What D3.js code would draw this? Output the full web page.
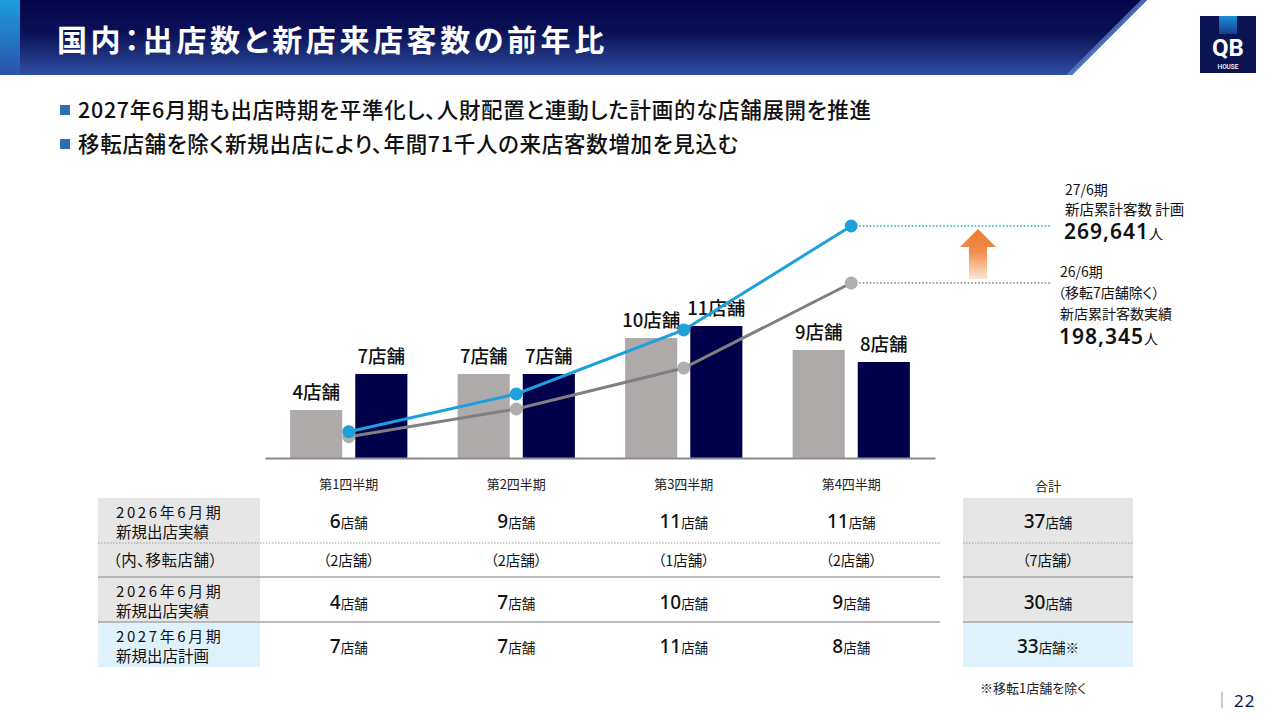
<!DOCTYPE html>
<html lang="ja">
<head>
<meta charset="utf-8">
<script src="https://cdn.jsdelivr.net/npm/d3@7"></script>
<style>
  html, body { margin: 0; padding: 0; background: #fff; }
  svg { display: block; font-family: "Noto Sans CJK JP", "Noto Sans", sans-serif; font-feature-settings: "palt"; }
</style>
</head>
<body>
<div id="chart"></div>
<script>
// 四半期と系列
const quarters = ["第1四半期", "第2四半期", "第3四半期", "第4四半期"];
const seriesNames = ["2026年6月期", "2027年6月期"];

// 出店数（棒）
const stores2026 = [4, 7, 10, 9];
const stores2027 = [7, 7, 11, 8];

// 新店累計客数（折れ線、図から読み取った推定値）
const visitors2026 = [6100, 40800, 92000, 198345];
const visitors2027 = [12400, 59500, 139600, 269641];

// 表
const rowLabels = [
  ["2026年6月期", "新規出店実績"],
  ["（内、移転店舗）"],
  ["2026年6月期", "新規出店実績"],
  ["2027年6月期", "新規出店計画"]
];
const openedAll2026 = [6, 9, 11, 11];
const relocated2026 = [2, 2, 1, 2];
const rowTotals = [37, 7, 30, 33];

const bullets = [
  "2027年6月期も出店時期を平準化し、人財配置と連動した計画的な店舗展開を推進",
  "移転店舗を除く新規出店により、年間71千人の来店客数増加を見込む"
];

const W = 1280, H = 720;
const NAVY = "#00004a", GRAY = "#aeaaaa", BLUE = "#1ea0da", LINEGRAY = "#7f7f7f";

const svg = d3.select("#chart").append("svg").attr("width", W).attr("height", H);
const defs = svg.append("defs");

// ---- ヘッダー ----
const hg = defs.append("linearGradient").attr("id", "hdr").attr("x1", 0).attr("y1", 0).attr("x2", 0).attr("y2", 1);
hg.append("stop").attr("offset", "0%").attr("stop-color", "#04044a");
hg.append("stop").attr("offset", "45%").attr("stop-color", "#0c1258");
hg.append("stop").attr("offset", "100%").attr("stop-color", "#2d4f9f");
const sg = defs.append("linearGradient").attr("id", "strip").attr("x1", 0).attr("y1", 0).attr("x2", 0).attr("y2", 1);
sg.append("stop").attr("offset", "0%").attr("stop-color", "#1c9de0");
sg.append("stop").attr("offset", "100%").attr("stop-color", "#2a52aa");

svg.append("path").attr("d", "M0,0 L1147,0 L1072,75 L0,75 Z").attr("fill", "url(#hdr)");
svg.append("path").attr("d", "M1141,0 L1147,0 L1072,75 L1066,75 Z").attr("fill", "#5b7fc6").attr("opacity", 0.8);
svg.append("rect").attr("x", 0).attr("y", 0).attr("width", 20).attr("height", 75).attr("fill", "url(#strip)");
svg.append("text").attr("x", 57).attr("y", 51).attr("fill", "#fff")
  .style("font-size", "30px").style("font-weight", 700).style("letter-spacing", "3.6px")
  .text("国内：出店数と新店来店客数の前年比");

// ロゴ
const lg = defs.append("linearGradient").attr("id", "logoTop").attr("x1", 0).attr("y1", 0).attr("x2", 0).attr("y2", 1);
lg.append("stop").attr("offset", "0%").attr("stop-color", "#1b8fd8");
lg.append("stop").attr("offset", "100%").attr("stop-color", "#163e8e");
svg.append("rect").attr("x", 1200).attr("y", 16).attr("width", 56).attr("height", 57).attr("fill", "#0a1452");
svg.append("rect").attr("x", 1219).attr("y", 16).attr("width", 18).attr("height", 18).attr("fill", "url(#logoTop)");
svg.append("text").attr("x", 1228).attr("y", 56).attr("text-anchor", "middle").attr("fill", "#fff")
  .style("font-family", "Roboto, sans-serif").style("font-size", "24px").style("font-weight", 700).text("QB");
svg.append("text").attr("x", 1228).attr("y", 69).attr("text-anchor", "middle").attr("fill", "#fff")
  .style("font-family", "Roboto, sans-serif").style("font-size", "6.5px").style("font-weight", 500).text("HOUSE");

// ---- 箇条書き ----
bullets.forEach((t, i) => {
  const y = 111 + i * 34;
  svg.append("rect").attr("x", 60).attr("y", y - 6).attr("width", 10).attr("height", 10).attr("fill", "#2f6db3");
  svg.append("text").attr("x", 78).attr("y", y + 7).attr("fill", "#111")
    .style("font-size", "21.5px").style("font-weight", 500).style("letter-spacing", "0.7px").text(t);
});

// ---- 棒グラフ ----
const x = d3.scaleBand().domain(quarters).range([265, 935]).paddingInner(0.3).paddingOuter(0.15);
const xs = d3.scaleBand().domain(seriesNames).range([0, x.bandwidth()]).paddingInner(0.2);
const yBar = d3.scaleLinear().domain([0, 12]).range([458, 314]);
const yLine = d3.scaleLinear().domain([0, 269641]).range([441.6, 226]);
const cx = q => x(q) + x.bandwidth() / 2;

const barData = [];
quarters.forEach((q, i) => {
  barData.push({ q, s: seriesNames[0], v: stores2026[i], c: GRAY });
  barData.push({ q, s: seriesNames[1], v: stores2027[i], c: NAVY });
});

const gBars = svg.append("g");
gBars.selectAll("rect").data(barData).join("rect")
  .attr("x", d => x(d.q) + xs(d.s))
  .attr("y", d => yBar(d.v))
  .attr("width", xs.bandwidth())
  .attr("height", d => yBar(0) - yBar(d.v))
  .attr("fill", d => d.c);

gBars.selectAll("text").data(barData).join("text")
  .attr("x", d => x(d.q) + xs(d.s) + xs.bandwidth() / 2)
  .attr("y", d => yBar(d.v) - 11)
  .attr("text-anchor", "middle")
  .attr("fill", "#111")
  .style("font-size", "18.5px").style("font-weight", 500)
  .text(d => d.v + "店舗");

// 軸（表の見出しを兼ねる）
const axis = svg.append("g").attr("transform", `translate(0,${yBar(0)})`)
  .call(d3.axisBottom(x).tickSize(0).tickPadding(22));
axis.select(".domain").attr("stroke", "#8c8c8c").attr("stroke-width", 2);
axis.selectAll("text").attr("fill", "#222").style("font-size", "13px")
  .style("font-family", "'Noto Sans CJK JP', sans-serif");

// ---- 折れ線 ----
const lineGen = d3.line().x(d => cx(d.q)).y(d => yLine(d.v));
const lines = [
  { vals: visitors2026, stroke: LINEGRAY, dot: "#b0adad" },
  { vals: visitors2027, stroke: BLUE, dot: BLUE }
];
lines.forEach(L => {
  const pts = quarters.map((q, i) => ({ q, v: L.vals[i] }));
  svg.append("path").datum(pts).attr("d", lineGen)
    .attr("fill", "none").attr("stroke", L.stroke).attr("stroke-width", 3);
  svg.append("g").selectAll("circle").data(pts).join("circle")
    .attr("cx", d => cx(d.q)).attr("cy", d => yLine(d.v)).attr("r", 6.5).attr("fill", L.dot);
  const last = pts[pts.length - 1];
  svg.append("line")
    .attr("x1", cx(last.q) + 8).attr("x2", 1052)
    .attr("y1", yLine(last.v)).attr("y2", yLine(last.v))
    .attr("stroke", L.stroke === BLUE ? BLUE : "#808080")
    .attr("stroke-width", 1.5).attr("stroke-dasharray", "1.5,2");
});

// 上向き矢印
const ag = defs.append("linearGradient").attr("id", "arrowG").attr("x1", 0).attr("y1", 0).attr("x2", 0).attr("y2", 1);
ag.append("stop").attr("offset", "0%").attr("stop-color", "#ec7a2c");
ag.append("stop").attr("offset", "45%").attr("stop-color", "#f08c4a");
ag.append("stop").attr("offset", "100%").attr("stop-color", "#fde6d6");
const ay0 = yLine(269641) + 3, ay1 = yLine(198345) - 4;
svg.append("path")
  .attr("d", `M978,${ay0} L996,${ay0 + 18} L987,${ay0 + 18} L987,${ay1} L969,${ay1} L969,${ay0 + 18} L960,${ay0 + 18} Z`)
  .attr("fill", "url(#arrowG)");

// 右側注記
const ann = svg.append("g").attr("fill", "#111");
const numFont = "'Noto Sans', sans-serif";
ann.append("text").attr("x", 1065).attr("y", 195).style("font-size", "14px").text("27/6期");
ann.append("text").attr("x", 1065).attr("y", 215).style("font-size", "14.5px").text("新店累計客数 計画");
const t1 = ann.append("text").attr("x", 1064).attr("y", 239);
t1.append("tspan").style("font-size", "21px").style("font-weight", 600).style("letter-spacing", "1px").style("font-family", numFont).text("269,641");
t1.append("tspan").style("font-size", "14px").text("人");
ann.append("text").attr("x", 1060).attr("y", 277).style("font-size", "14px").text("26/6期");
ann.append("text").attr("x", 1058).attr("y", 298).style("font-size", "14px").text("（移転7店舗除く）");
ann.append("text").attr("x", 1060).attr("y", 319).style("font-size", "14px").text("新店累計客数実績");
const t2 = ann.append("text").attr("x", 1059).attr("y", 344);
t2.append("tspan").style("font-size", "21px").style("font-weight", 600).style("letter-spacing", "1px").style("font-family", numFont).text("198,345");
t2.append("tspan").style("font-size", "14px").text("人");

// ---- 表 ----
const rowTops = [498, 543, 577, 622, 667];
const labelBg = ["#e6e6e6", "#e6e6e6", "#e6e6e6", "#dff1fb"];
const totalX0 = 963, totalX1 = 1133, totalCx = (totalX0 + totalX1) / 2;
const tbl = svg.append("g");

svg.append("text").attr("x", totalCx).attr("y", yBar(0) + 22 + 11).attr("text-anchor", "middle")
  .attr("fill", "#222").style("font-size", "13px").text("合計");

rowLabels.forEach((lab, i) => {
  const y0 = rowTops[i], y1 = rowTops[i + 1];
  tbl.append("rect").attr("x", 98).attr("y", y0).attr("width", 162).attr("height", y1 - y0).attr("fill", labelBg[i]);
  tbl.append("rect").attr("x", totalX0).attr("y", y0).attr("width", totalX1 - totalX0).attr("height", y1 - y0).attr("fill", labelBg[i]);
  if (lab.length === 2) {
    tbl.append("text").attr("x", 116).attr("y", y0 + 20).attr("fill", "#111")
      .style("font-size", "15px").style("letter-spacing", "2.6px").text(lab[0]);
    tbl.append("text").attr("x", 116).attr("y", y0 + 40).attr("fill", "#111")
      .style("font-size", "15.5px").text(lab[1]);
  } else {
    tbl.append("text").attr("x", 113).attr("y", (y0 + y1) / 2 + 6).attr("fill", "#111")
      .style("font-size", "15.5px").style("letter-spacing", "0.5px").text(lab[0]);
  }
});

// 区切り線
tbl.append("line").attr("x1", 98).attr("x2", 940).attr("y1", 543).attr("y2", 543)
  .attr("stroke", "#9a9a9a").attr("stroke-dasharray", "1.5,1.5");
tbl.append("line").attr("x1", totalX0).attr("x2", totalX1).attr("y1", 543).attr("y2", 543)
  .attr("stroke", "#9a9a9a").attr("stroke-dasharray", "1.5,1.5");
[577, 622].forEach(y => {
  tbl.append("line").attr("x1", 98).attr("x2", 940).attr("y1", y).attr("y2", y).attr("stroke", "#a6a6a6").attr("stroke-width", 1.5);
  tbl.append("line").attr("x1", totalX0).attr("x2", totalX1).attr("y1", y).attr("y2", y).attr("stroke", "#a6a6a6").attr("stroke-width", 1.5);
});

function valueCell(cxv, y, n, suffix) {
  const t = tbl.append("text").attr("x", cxv).attr("y", y).attr("text-anchor", "middle").attr("fill", "#111");
  t.append("tspan").style("font-size", "19px").style("font-weight", 500).style("font-family", "'Noto Sans', sans-serif").text(n);
  t.append("tspan").style("font-size", "13.5px").text("店舗" + (suffix || ""));
}
function parenCell(cxv, y, n) {
  tbl.append("text").attr("x", cxv).attr("y", y).attr("text-anchor", "middle").attr("fill", "#111")
    .style("font-size", "14.5px").text("（" + n + "店舗）");
}

quarters.forEach((q, i) => {
  valueCell(cx(q), 528, openedAll2026[i]);
  parenCell(cx(q), 566, relocated2026[i]);
  valueCell(cx(q), 609, stores2026[i]);
  valueCell(cx(q), 653, stores2027[i]);
});
valueCell(totalCx, 528, rowTotals[0]);
parenCell(totalCx, 566, rowTotals[1]);
valueCell(totalCx, 609, rowTotals[2]);
valueCell(totalCx, 653, rowTotals[3], "※");

svg.append("text").attr("x", 980).attr("y", 693).attr("fill", "#222").style("font-size", "13px").text("※移転1店舗を除く");

// ページ番号
svg.append("line").attr("x1", 1222).attr("x2", 1222).attr("y1", 692).attr("y2", 708).attr("stroke", "#999").attr("stroke-width", 1);
svg.append("text").attr("x", 1234).attr("y", 707).attr("fill", "#0a1452")
  .style("font-family", "'Noto Sans', sans-serif").style("font-size", "17px").style("letter-spacing", "1px").text("22");
</script>
</body>
</html>
